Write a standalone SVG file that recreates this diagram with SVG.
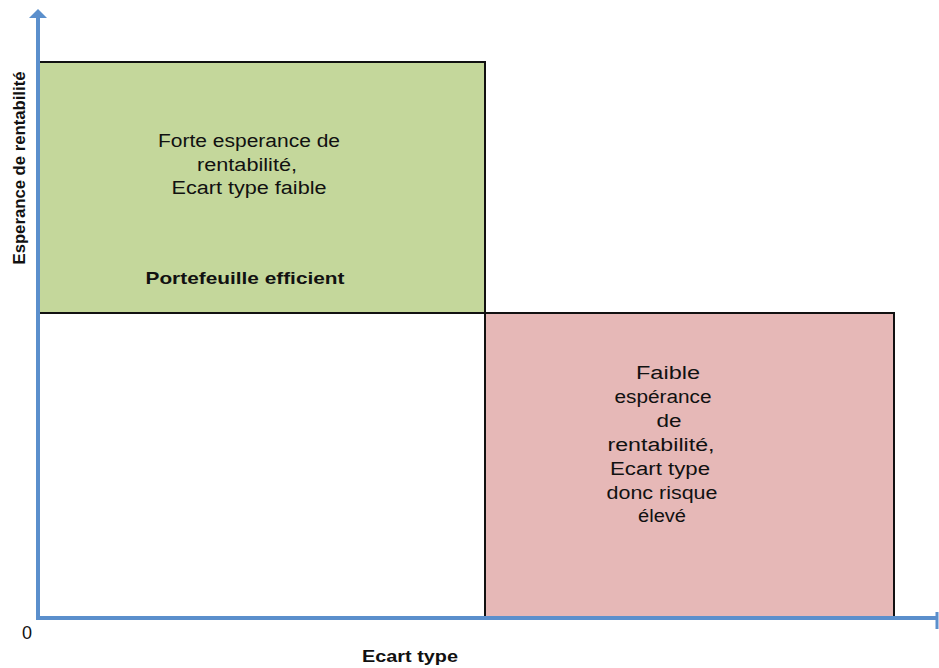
<svg xmlns="http://www.w3.org/2000/svg" width="939" height="668" viewBox="0 0 939 668">
<style>
.t{font-family:"Liberation Sans",Arial,sans-serif;font-size:18px;fill:#111;text-anchor:middle}
.b{font-weight:bold;font-size:17px}
.axis{stroke:#5b8fcc;stroke-width:4;fill:none}
</style>
<rect width="939" height="668" fill="#fff"/>
<g id="zone-efficient">
<rect x="38" y="62" width="447" height="251" fill="#c4d79b"/>
<path d="M38 62H485V313" fill="none" stroke="#111" stroke-width="2"/>
<text class="t" x="249" y="147" textLength="182" lengthAdjust="spacingAndGlyphs">Forte esperance de</text>
<text class="t" x="247" y="171" textLength="100" lengthAdjust="spacingAndGlyphs">rentabilité,</text>
<text class="t" x="249" y="194" textLength="155" lengthAdjust="spacingAndGlyphs">Ecart type faible</text>
<text class="t b" x="245" y="284" textLength="199" lengthAdjust="spacingAndGlyphs">Portefeuille efficient</text>
</g>
<g id="zone-risque">
<rect x="485" y="313" width="409" height="305" fill="#e6b8b7"/>
<path d="M38 313H894V618M485 313V618" fill="none" stroke="#111" stroke-width="2"/>
<text class="t" x="668" y="379" textLength="64" lengthAdjust="spacingAndGlyphs">Faible</text>
<text class="t" x="663" y="403" textLength="97" lengthAdjust="spacingAndGlyphs">espérance</text>
<text class="t" x="669" y="427" textLength="25" lengthAdjust="spacingAndGlyphs">de</text>
<text class="t" x="661" y="451" textLength="107" lengthAdjust="spacingAndGlyphs">rentabilité,</text>
<text class="t" x="660" y="475" textLength="100" lengthAdjust="spacingAndGlyphs">Ecart type</text>
<text class="t" x="662" y="499" textLength="111" lengthAdjust="spacingAndGlyphs">donc risque</text>
<text class="t" x="662" y="522" textLength="48" lengthAdjust="spacingAndGlyphs">élevé</text>
</g>
<g id="axes">
<path class="axis" d="M38 618V17"/>
<polygon points="38,9 47,18 29,18" fill="#5b8fcc"/>
<path class="axis" d="M36 618H936"/>
<path d="M937 612V629" stroke="#5b8fcc" stroke-width="3"/>
</g>
<g id="labels">
<text class="t" x="27" y="639">0</text>
<text class="t b" x="410" y="662" textLength="96" lengthAdjust="spacingAndGlyphs">Ecart type</text>
<text class="t b" transform="translate(25 168) rotate(-90)" style="font-size:16px" textLength="193" lengthAdjust="spacingAndGlyphs">Esperance de rentabilité</text>
</g>
</svg>
